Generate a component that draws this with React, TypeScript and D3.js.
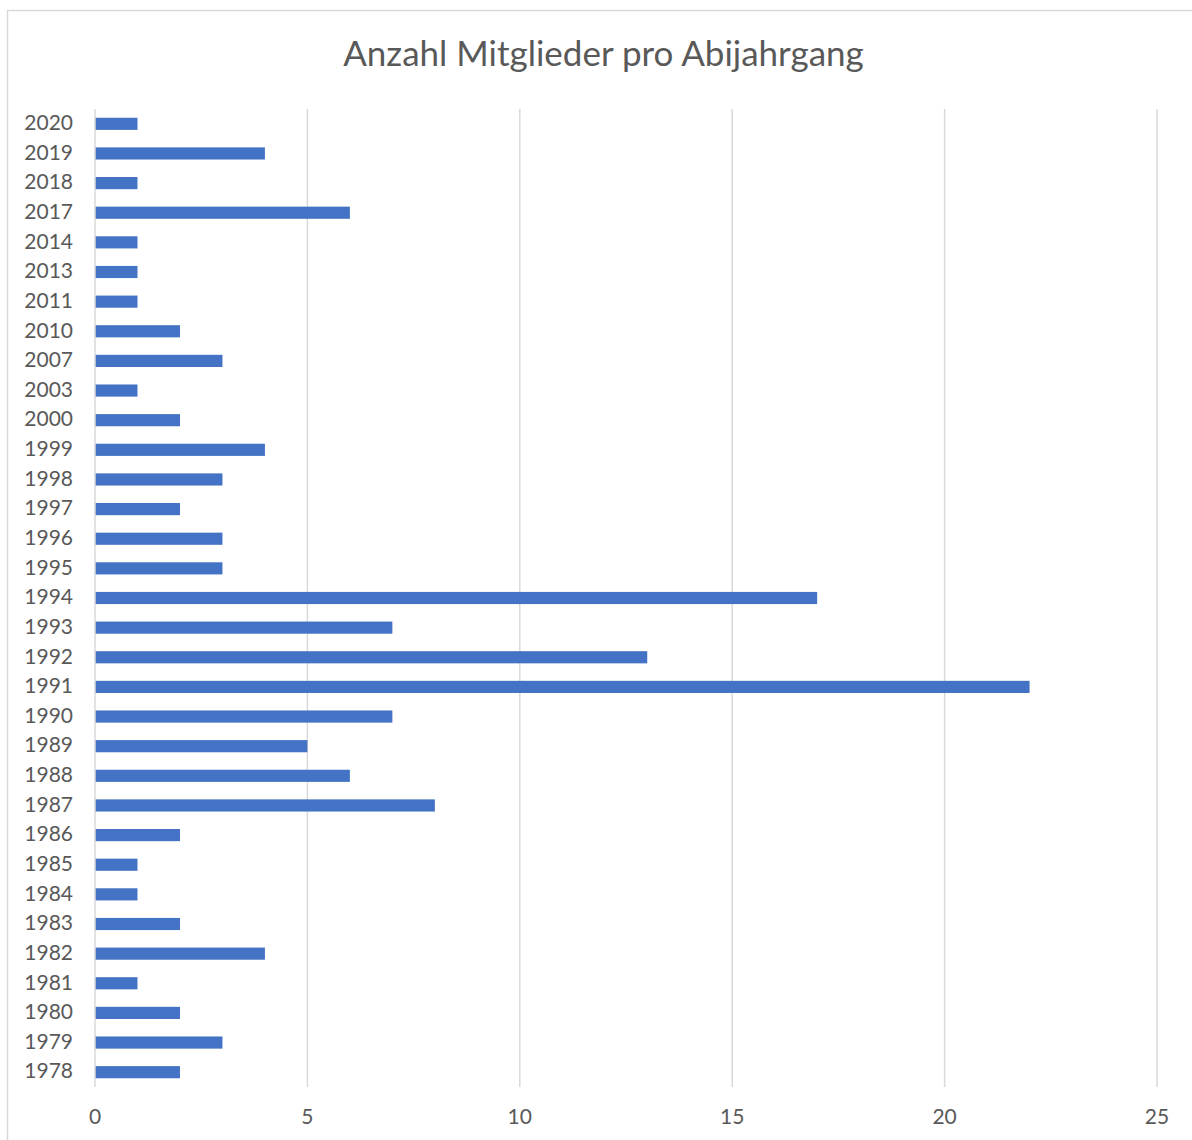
import React from "react";
import * as d3 from "d3";

// Abijahrgänge von oben nach unten, wie im Diagramm
const years = [
  "2020", "2019", "2018", "2017", "2014", "2013", "2011", "2010", "2007", "2003",
  "2000", "1999", "1998", "1997", "1996", "1995", "1994", "1993", "1992", "1991",
  "1990", "1989", "1988", "1987", "1986", "1985", "1984", "1983", "1982", "1981",
  "1980", "1979", "1978",
];
const members = [
  1, 4, 1, 6, 1, 1, 1, 2, 3, 1,
  2, 4, 3, 2, 3, 3, 17, 7, 13, 22,
  7, 5, 6, 8, 2, 1, 1, 2, 4, 1,
  2, 3, 2,
];
const xTicks = [0, 5, 10, 15, 20, 25];
const title = "Anzahl Mitglieder pro Abijahrgang";

const W = 1192;
const H = 1140;
const font = "Lato, 'Open Sans', sans-serif";
const textColor = "#595959";

const App: React.FC = () => {
  const x = d3.scaleLinear().domain([0, 25]).range([95, 1157]);
  const y = d3.scaleBand<string>().domain(years).range([109, 1087]).paddingInner(0.59).paddingOuter(0.295);

  return (
    <svg width={W} height={H} style={{ position: "absolute", left: 0, top: 0 }}>
      <rect x={0} y={0} width={W} height={H} fill="#fff" />
      <rect x={7.5} y={10.5} width={W + 20} height={H + 20} fill="#fff" stroke="#d9d9d9" strokeWidth={1.5} />
      <text x={603.5} y={57} textAnchor="middle" dominantBaseline="middle" fontFamily={font} fontSize={35} fill={textColor}>
        {title}
      </text>
      {xTicks.map((t) => (
        <g key={t}>
          {t > 0 && <line x1={x(t)} x2={x(t)} y1={109} y2={1087} stroke="#d9d9d9" strokeWidth={1.5} />}
          <text x={x(t)} y={1119} textAnchor="middle" dominantBaseline="middle" fontFamily={font} fontSize={21} fill={textColor}>
            {t}
          </text>
        </g>
      ))}
      {years.map((yr, i) => (
        <g key={yr}>
          <rect x={x(0)} y={y(yr)} width={x(members[i]) - x(0)} height={y.bandwidth()} fill="#4472c4" />
          <text
            x={73}
            y={(y(yr) ?? 0) + y.bandwidth() / 2 + 1}
            textAnchor="end"
            dominantBaseline="middle"
            fontFamily={font}
            fontSize={21}
            fill={textColor}
          >
            {yr}
          </text>
        </g>
      ))}
      <line x1={x(0)} x2={x(0)} y1={109} y2={1087} stroke="#d9d9d9" strokeWidth={1.5} />
    </svg>
  );
};

export default App;
